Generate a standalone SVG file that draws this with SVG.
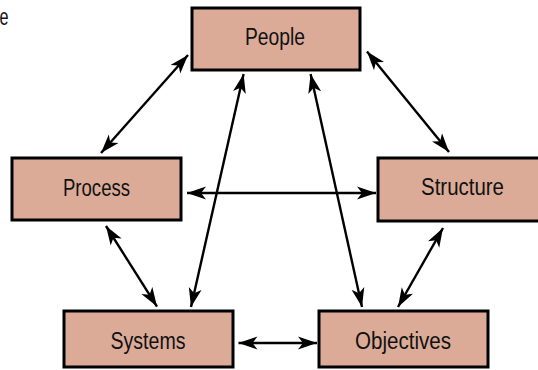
<svg xmlns="http://www.w3.org/2000/svg" width="538" height="370" viewBox="0 0 538 370">
<style>
.box{fill:#dbab98;stroke:#000;stroke-width:3}
.lbl{font-family:"Liberation Sans",Arial,sans-serif;font-size:23px;fill:#111;text-anchor:middle}
.con line{stroke:#000;stroke-width:2.4;marker-start:url(#ah);marker-end:url(#ah)}
</style>
<defs>
<marker id="ah" viewBox="0 -7 20 14" refX="19" refY="0" markerWidth="20" markerHeight="14" markerUnits="userSpaceOnUse" orient="auto-start-reverse">
<path d="M0,-6.5 L19,0 L0,6.5 L5,0 z" fill="#000"/>
</marker>
</defs>
<rect width="538" height="370" fill="#fff"/>
<text x="4" y="25" class="lbl" textLength="9" lengthAdjust="spacingAndGlyphs">e</text>
<g class="con" id="connectors">
<line x1="188" y1="55" x2="101" y2="153"/>
<line x1="243.6" y1="74" x2="191" y2="307"/>
<line x1="310.6" y1="74" x2="362" y2="307"/>
<line x1="367" y1="51.5" x2="449" y2="152"/>
<line x1="187" y1="193" x2="376" y2="193"/>
<line x1="106" y1="226" x2="157" y2="306.6"/>
<line x1="443" y1="228" x2="398" y2="307"/>
<line x1="238.5" y1="343" x2="317" y2="343"/>
</g>
<g id="people"><rect class="box" x="192" y="8" width="168" height="62"/><text class="lbl" x="275" y="45" textLength="60" lengthAdjust="spacingAndGlyphs">People</text></g>
<g id="process"><rect class="box" x="12" y="158" width="169" height="62"/><text class="lbl" x="96.5" y="196" textLength="67" lengthAdjust="spacingAndGlyphs">Process</text></g>
<g id="structure"><rect class="box" x="378" y="158" width="175" height="63"/><text class="lbl" x="462.5" y="195" textLength="83" lengthAdjust="spacingAndGlyphs">Structure</text></g>
<g id="systems"><rect class="box" x="64" y="311" width="169" height="56"/><text class="lbl" x="148" y="349" textLength="75" lengthAdjust="spacingAndGlyphs">Systems</text></g>
<g id="objectives"><rect class="box" x="319" y="311" width="169" height="56"/><text class="lbl" x="403" y="349" textLength="96" lengthAdjust="spacingAndGlyphs">Objectives</text></g>
</svg>
